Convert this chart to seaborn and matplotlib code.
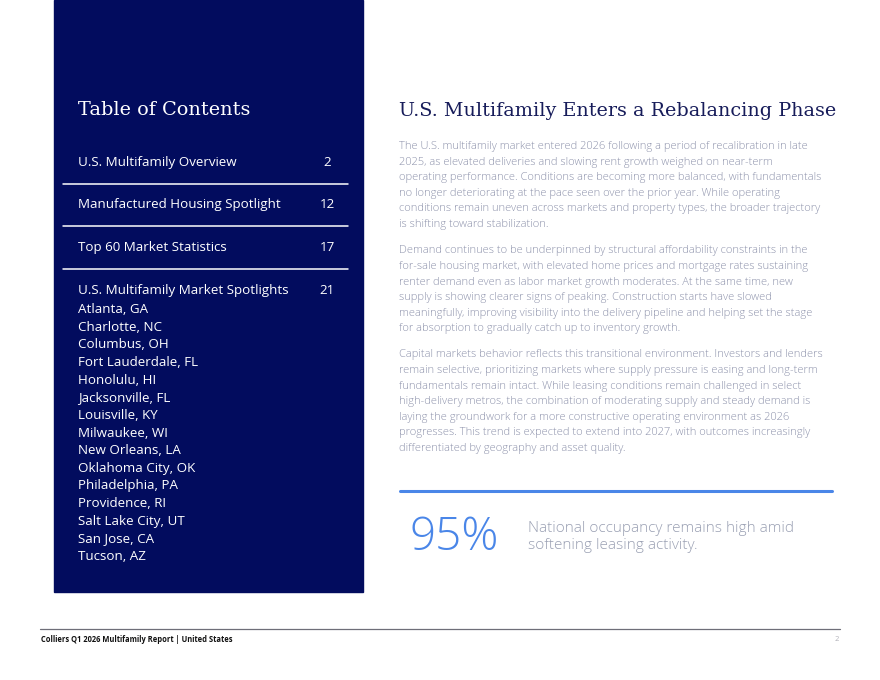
import matplotlib
matplotlib.use("Agg")
import matplotlib.pyplot as plt
import seaborn as sns
from matplotlib.patches import Rectangle

#page content

toc_title = "Table of Contents"
toc_items = ["U.S. Multifamily Overview", "Manufactured Housing Spotlight",
             "Top 60 Market Statistics", "U.S. Multifamily Market Spotlights"]
toc_pages = ["2", "12", "17", "21"]
cities = ["Atlanta, GA", "Charlotte, NC", "Columbus, OH", "Fort Lauderdale, FL",
          "Honolulu, HI", "Jacksonville, FL", "Louisville, KY", "Milwaukee, WI",
          "New Orleans, LA", "Oklahoma City, OK", "Philadelphia, PA",
          "Providence, RI", "Salt Lake City, UT", "San Jose, CA", "Tucson, AZ"]

heading = "U.S. Multifamily Enters a Rebalancing Phase"
para1 = ["The U.S. multifamily market entered 2026 following a period of recalibration in late",
         "2025, as elevated deliveries and slowing rent growth weighed on near-term",
         "operating performance. Conditions are becoming more balanced, with fundamentals",
         "no longer deteriorating at the pace seen over the prior year. While operating",
         "conditions remain uneven across markets and property types, the broader trajectory",
         "is shifting toward stabilization."]
para2 = ["Demand continues to be underpinned by structural affordability constraints in the",
         "for-sale housing market, with elevated home prices and mortgage rates sustaining",
         "renter demand even as labor market growth moderates. At the same time, new",
         "supply is showing clearer signs of peaking. Construction starts have slowed",
         "meaningfully, improving visibility into the delivery pipeline and helping set the stage",
         "for absorption to gradually catch up to inventory growth."]
para3 = ["Capital markets behavior reflects this transitional environment. Investors and lenders",
         "remain selective, prioritizing markets where supply pressure is easing and long-term",
         "fundamentals remain intact. While leasing conditions remain challenged in select",
         "high-delivery metros, the combination of moderating supply and steady demand is",
         "laying the groundwork for a more constructive operating environment as 2026",
         "progresses. This trend is expected to extend into 2027, with outcomes increasingly",
         "differentiated by geography and asset quality."]

stat_value = "95%"
stat_text = ["National occupancy remains high amid", "softening leasing activity."]
footer_text = "Colliers Q1 2026 Multifamily Report | United States"
page_no = "2"

#style

sns.set_theme(style="white")
plt.rcParams["font.family"] = ["Open Sans", "DejaVu Sans"]

navy = "#020c5e"
body_grey = "#8d92ab"
blue = "#4a86e8"

fig = plt.figure(figsize=(8.8, 6.8), dpi=100)
ax = fig.add_axes([0, 0, 1, 1])
ax.set_xlim(0, 880)
ax.set_ylim(680, 0)
ax.axis("off")

#left panel

ax.add_patch(Rectangle((54, 0), 309, 592, color=navy, zorder=0))
ax.text(78, 115, toc_title, color="white", fontsize=13.9, family="DejaVu Serif",
        va="baseline", ha="left")

toc_y = [166, 208.3, 250.7, 294]
for item, page, y in zip(toc_items, toc_pages, toc_y):
    ax.text(78, y, item, color="white", fontsize=9.6, va="baseline", ha="left")
    ax.text(327, y, page, color="white", fontsize=9.6, va="baseline", ha="center")
for y in [184.3, 226.3, 268.7]:
    ax.plot([63, 348], [y, y], color="white", lw=1.1)

for i, city in enumerate(cities):
    ax.text(78, 313 + i * 17.65, city, color="white", fontsize=9.6,
            va="baseline", ha="left")

#right column

ax.text(399, 116.5, heading, color="#171c5a", fontsize=13.8, family="DejaVu Serif",
        va="baseline", ha="left")

for lines, y0 in [(para1, 149), (para2, 253.3), (para3, 357.3)]:
    for j, line in enumerate(lines):
        ax.text(399, y0 + j * 15.6, line, color=body_grey, fontsize=8.0,
                fontweight="light", va="baseline", ha="left")

ax.plot([400, 832], [491, 491], color=blue, lw=2.2)
ax.text(409, 549.5, stat_value, color=blue, fontsize=33, fontweight="light",
        va="baseline", ha="left")
for j, line in enumerate(stat_text):
    ax.text(528, 531.5 + j * 17.8, line, color="#9aa0b3", fontsize=11.1,
            fontweight="light", va="baseline", ha="left")

#footer

ax.plot([40, 840], [628.5, 628.5], color="#6e6e78", lw=0.9)
ax.text(41, 642, footer_text, color="#111111", fontsize=5.45, fontweight="bold",
        va="baseline", ha="left")
ax.text(839, 641, page_no, color="#b0b0b8", fontsize=5.5, va="baseline", ha="right")

fig.savefig("out.png", dpi=100)
